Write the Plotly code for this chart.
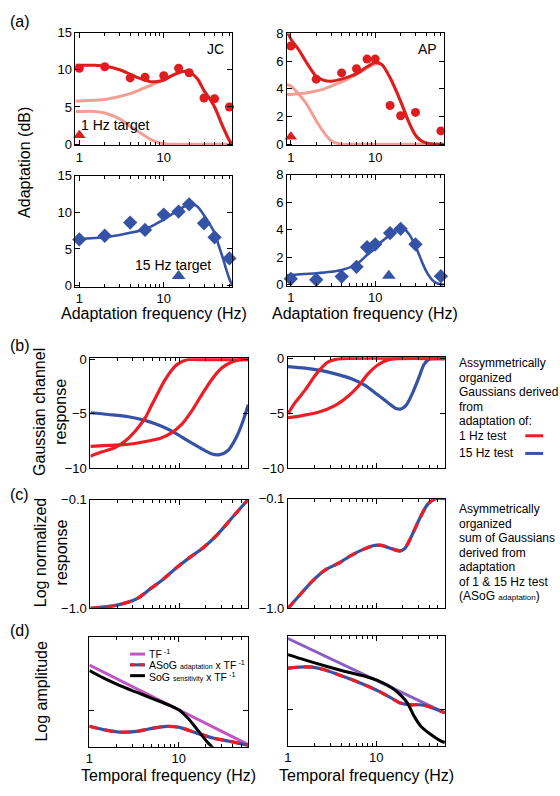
import math
import plotly.graph_objects as go

W, H = 560, 796
FONT = "Liberation Sans, Arial, sans-serif"

RED = "rgb(222,30,30)"
RED_B = "rgb(238,28,36)"
PINK = "rgb(242,158,148)"
BLUE = "rgb(52,82,166)"
MAG = "rgb(196,84,196)"
PURP = "rgb(140,92,196)"

# ---------------- data ----------------
# (a) JC, 1 Hz target
jc_top_pts_f = [1, 2, 4, 6, 10, 15, 20, 30, 40, 60]
jc_top_pts_v = [10.2, 10.4, 8.9, 9.0, 9.2, 10.2, 9.6, 6.2, 6.1, 5.0]
jc_top_fit_f = [0.9, 1, 1.5, 2, 3, 4, 5, 6, 7, 8, 10, 12, 15, 18, 20, 25, 30, 35, 40, 50, 60, 65]
jc_top_fit_v = [10.6, 10.6, 10.6, 10.5, 10.0, 9.4, 8.9, 8.6, 8.4, 8.4, 8.6, 9.1, 9.6, 9.8, 9.7, 8.8, 7.2, 6.1, 5.0, 2.4, 0.5, 0.05]
jc_top_slow_v = [5.8, 5.8, 5.9, 6.0, 6.4, 6.8, 7.2, 7.6, 7.9, 8.2, 8.6, 9.1, 9.6, 9.8, 9.7, 8.8, 7.2, 6.1, 5.0, 2.4, 0.5, 0.05]
jc_top_fast_v = [4.4, 4.4, 4.4, 4.2, 3.4, 2.4, 1.7, 1.1, 0.65, 0.35, 0.05, 0, 0, 0, 0, 0, 0, 0, 0, 0, 0, 0]
jc_top_target = ([1], [1.2])

# (a) AP, 1 Hz target
ap_top_pts_f = [1, 2, 4, 6, 8, 10, 15, 20, 30, 60]
ap_top_pts_v = [7.1, 4.7, 5.15, 5.45, 6.15, 6.15, 2.8, 2.06, 2.3, 0.96]
ap_top_fit_f = [0.9, 1, 1.25, 1.5, 2, 2.5, 3, 4, 5, 6, 8, 10, 12, 15, 20, 25, 30, 35, 40, 50, 65]
ap_top_fit_v = [8.2, 7.6, 6.8, 6.0, 4.9, 4.6, 4.55, 4.7, 4.9, 5.1, 5.6, 5.9, 5.75, 4.8, 3.1, 1.6, 0.65, 0.25, 0.1, 0, 0]
ap_top_slow_v = [3.6, 3.6, 3.65, 3.7, 3.85, 4.0, 4.2, 4.5, 4.8, 5.05, 5.5, 5.8, 5.75, 4.8, 3.1, 1.6, 0.65, 0.25, 0.1, 0, 0]
ap_top_fast_v = [4.3, 4.2, 3.6, 3.0, 1.7, 0.8, 0.25, 0, 0, 0, 0, 0, 0, 0, 0, 0, 0, 0, 0, 0, 0]
ap_top_target = ([1], [0.54])

# (a) JC, 15 Hz target
jc_bot_pts_f = [1, 2, 4, 6, 10, 15, 20, 30, 40, 60]
jc_bot_pts_v = [6.3, 6.8, 8.6, 7.6, 9.7, 10.1, 11.1, 8.5, 6.6, 3.7]
jc_bot_fit_f = [0.9, 1, 1.5, 2, 3, 4, 6, 8, 10, 12, 15, 18, 20, 22, 25, 30, 35, 40, 45, 50, 55, 60, 65]
jc_bot_fit_v = [6.3, 6.35, 6.5, 6.6, 6.9, 7.2, 7.7, 8.4, 9.0, 9.6, 10.3, 10.9, 11.1, 11.1, 10.8, 9.6, 8.4, 7.2, 5.4, 3.8, 2.2, 0.9, 0.0]
jc_bot_target = ([15], [1.3])

# (a) AP, 15 Hz target
ap_bot_pts_f = [1, 2, 4, 6, 8, 10, 15, 20, 30, 60]
ap_bot_pts_v = [0.42, 0.35, 0.58, 1.29, 2.72, 2.93, 3.75, 4.06, 2.93, 0.61]
ap_bot_fit_f = [0.9, 1, 2, 3, 4, 6, 8, 10, 12, 15, 18, 20, 22, 25, 30, 35, 40, 45, 50, 55, 60, 65]
ap_bot_fit_v = [0.68, 0.7, 0.82, 0.93, 1.06, 1.48, 2.15, 2.65, 3.15, 3.63, 4.0, 4.1, 4.05, 3.7, 2.8, 1.8, 1.0, 0.5, 0.2, 0.08, 0.02, 0]
ap_bot_target = ([14.5], [0.65])

# (b) Gaussian channel responses
b1_red1_f = [1, 1.35, 1.9, 2.47, 3.19, 4.13, 4.9, 5.83, 6.9, 8.2, 9.7, 12.6, 16.3, 60]
b1_red1_v = [-8.9, -8.5, -8.1, -7.5, -6.6, -5.4, -4.2, -3.0, -1.9, -1.0, -0.4, 0, 0, 0]
b1_red2_f = [1, 1.6, 2.69, 4.5, 6.35, 8.2, 10.6, 13.7, 17.8, 23, 29.7, 38.5, 49.9, 60]
b1_red2_v = [-8.0, -7.9, -7.8, -7.5, -7.2, -6.75, -6.0, -4.8, -3.3, -1.9, -0.83, -0.24, 0, 0]
b1_blue_f = [1, 1.6, 2.69, 4.13, 6.35, 8.95, 12.6, 17.8, 23, 28.5, 35.5, 43.8, 52.2, 60]
b1_blue_v = [-4.9, -5.06, -5.27, -5.6, -6.15, -6.75, -7.5, -8.2, -8.67, -8.76, -8.37, -7.2, -5.7, -4.17]

b2_red1_f = [1, 1.21, 1.57, 2.03, 2.41, 2.86, 3.4, 4.04, 60]
b2_red1_v = [-5.04, -4.0, -2.86, -1.55, -0.82, -0.3, -0.09, 0, 0]
b2_red2_f = [1, 1.44, 2.21, 3.4, 4.8, 6.2, 8.07, 10.4, 13.5, 17.5, 60]
b2_red2_v = [-5.4, -5.2, -4.9, -4.3, -3.44, -2.57, -1.4, -0.58, -0.12, 0, 0]
b2_blue_f = [1, 1.57, 2.41, 3.71, 5.24, 7.4, 10.4, 13.5, 16.8, 19.1, 21.7, 25.8, 30.6, 34.9, 39.8, 45.2, 60]
b2_blue_v = [-0.73, -0.87, -1.1, -1.46, -1.84, -2.42, -3.3, -4.0, -4.55, -4.6, -4.3, -3.15, -1.7, -0.52, -0.06, 0, 0]

# (c) log normalized response (ASoG adaptation)
c1_f = [1, 1.99, 3.33, 4.69, 6.62, 9.33, 13.1, 18.5, 26.1, 36.9, 47.8, 60]
c1_v = [-1.0, -0.973, -0.92, -0.84, -0.758, -0.664, -0.58, -0.50, -0.40, -0.275, -0.18, -0.1]
c2_f = [1, 1.33, 1.88, 2.65, 3.74, 5.28, 7.47, 9.66, 11.5, 14.9, 18.5, 21.0, 24.9, 30.9, 38.3, 47.6, 60]
c2_v = [-1.0, -0.898, -0.778, -0.684, -0.63, -0.563, -0.51, -0.483, -0.483, -0.51, -0.529, -0.51, -0.415, -0.268, -0.148, -0.1, -0.1]

# (d) log amplitude (arbitrary log units)
d1_tf_f = [1, 60]
d1_tf_v = [2.23, 0.06]
d1_sog_f = [1, 1.43, 2.2, 3.37, 5.17, 7.93, 10.2, 12.7, 15.1, 17.9, 21.2, 24.2, 27]
d1_sog_v = [2.08, 1.88, 1.67, 1.49, 1.31, 1.13, 1.0, 0.78, 0.56, 0.33, 0.11, -0.03, -0.25]
d1_asog_f = [1, 1.43, 2.2, 3.37, 5.17, 7.28, 10.2, 15.7, 24.2, 37, 60]
d1_asog_v = [0.56, 0.47, 0.40, 0.42, 0.51, 0.56, 0.53, 0.38, 0.24, 0.15, 0.04]

d2_tf_f = [1, 60]
d2_tf_v = [2.93, 0.9]
d2_sog_f = [1, 1.58, 2.65, 4.45, 7.47, 10.5, 14.9, 19.2, 22.8, 27.2, 32.3, 41.7, 54.4, 60]
d2_sog_v = [2.49, 2.34, 2.18, 2.03, 1.90, 1.78, 1.59, 1.37, 1.15, 0.79, 0.53, 0.31, 0.13, 0.09]
d2_asog_f = [1, 1.33, 1.88, 2.65, 3.74, 5.28, 7.47, 10.5, 14.9, 19.2, 24.9, 30.9, 38.3, 60]
d2_asog_v = [2.12, 2.15, 2.15, 2.07, 1.94, 1.81, 1.66, 1.5, 1.30, 1.16, 1.12, 1.12, 1.08, 0.9]

MINOR_TICKS = [2, 3, 4, 5, 6, 7, 8, 9, 20, 30, 40, 50, 60]

# ---------------- figure ----------------
fig = go.Figure()


def ax_names(i):
    return ("x" if i == 1 else f"x{i}", "y" if i == 1 else f"y{i}")


def set_axes(i, xpx, ypx, xr, yr, yticks, ytext, xlabels=True, ylabels=True):
    xa, ya = ax_names(i)
    common = dict(showline=True, linecolor="black", linewidth=1, mirror="allticks",
                  ticks="inside", ticklen=5, tickcolor="black", showgrid=False,
                  zeroline=False, tickfont=dict(size=13, color="black", family=FONT))
    fig.update_layout(**{
        ("xaxis" if i == 1 else f"xaxis{i}"): dict(
            domain=[xpx[0] / W, xpx[1] / W], anchor=ya, type="log",
            range=[math.log10(xr[0]), math.log10(xr[1])],
            tickmode="array", tickvals=[1, 10], ticktext=["1", "10"],
            showticklabels=xlabels,
            minor=dict(tickmode="array", tickvals=MINOR_TICKS, ticks="inside",
                       ticklen=3, tickcolor="black", showgrid=False),
            **common),
        ("yaxis" if i == 1 else f"yaxis{i}"): dict(
            domain=[1 - ypx[1] / H, 1 - ypx[0] / H], anchor=xa, range=yr,
            tickmode="array", tickvals=yticks, ticktext=ytext,
            showticklabels=ylabels, **common),
    })


def line(i, f, v, color, width=3.0, dash=None):
    xa, ya = ax_names(i)
    fig.add_trace(go.Scatter(x=f, y=v, mode="lines", xaxis=xa, yaxis=ya,
                             line=dict(color=color, width=width, shape="spline",
                                       smoothing=0.8, dash=dash),
                             hoverinfo="skip"))


def dashed(i, f, v):
    line(i, f, v, BLUE, 3.2)
    line(i, f, v, RED_B, 3.2, "9px,7px")


def pts(i, f, v, color, symbol, size):
    xa, ya = ax_names(i)
    fig.add_trace(go.Scatter(x=f, y=v, mode="markers", xaxis=xa, yaxis=ya, cliponaxis=False,
                             marker=dict(color=color, symbol=symbol, size=size, line=dict(width=0)),
                             hoverinfo="skip"))


AX_A = (0.9, 65)
AX_B = (1, 60)
set_axes(1, (72, 230), (26, 141), AX_A, [-0.15, 15], [0, 5, 10, 15], ["0", "5", "10", "15"])
set_axes(2, (285, 443), (27, 141), AX_A, [-0.08, 8], [0, 2, 4, 6, 8], ["0", "2", "4", "6", "8"])
set_axes(3, (72, 230), (172, 285), AX_A, [-0.15, 15], [0, 5, 10, 15], ["0", "5", "10", "15"])
set_axes(4, (285, 443), (171, 284), AX_A, [-0.08, 8], [0, 2, 4, 6, 8], ["0", "2", "4", "6", "8"])
set_axes(5, (87, 246), (358, 470), AX_B, [-10, 0.12], [-10, -5, 0], ["\u221210", "\u22125", "0"], False)
set_axes(6, (286, 444), (357, 470), AX_B, [-10, 0.12], [-10, -5, 0], ["\u221210", "\u22125", "0"], False)
set_axes(7, (87, 246), (502, 613), AX_B, [-1.0, -0.1], [-1.0, -0.1], ["\u22121.0", "\u22120.1"], False)
set_axes(8, (286, 444), (501, 613), AX_B, [-1.0, -0.1], [-1.0, -0.1], ["\u22121.0", "\u22120.1"], False)
set_axes(9, (86, 246), (642, 754), AX_B, [0, 3], [1], ["1"], True, False)
set_axes(10, (286, 444), (641, 753), AX_B, [0, 3], [1], ["1"], True, False)

# (a)
line(1, jc_top_fit_f, jc_top_slow_v, PINK, 3)
line(1, jc_top_fit_f, jc_top_fast_v, PINK, 3)
line(1, jc_top_fit_f, jc_top_fit_v, RED, 3)
pts(1, jc_top_pts_f, jc_top_pts_v, RED, "circle", 9)
pts(1, *jc_top_target, RED, "triangle-up", 11)

line(2, ap_top_fit_f, ap_top_slow_v, PINK, 3)
line(2, ap_top_fit_f, ap_top_fast_v, PINK, 3)
line(2, ap_top_fit_f, ap_top_fit_v, RED, 3)
pts(2, ap_top_pts_f, ap_top_pts_v, RED, "circle", 9)
pts(2, *ap_top_target, RED, "triangle-up", 11)

line(3, jc_bot_fit_f, jc_bot_fit_v, BLUE, 2.6)
pts(3, jc_bot_pts_f, jc_bot_pts_v, BLUE, "diamond", 11)
pts(3, *jc_bot_target, BLUE, "triangle-up", 12)

line(4, ap_bot_fit_f, ap_bot_fit_v, BLUE, 2.6)
pts(4, ap_bot_pts_f, ap_bot_pts_v, BLUE, "diamond", 11)
pts(4, *ap_bot_target, BLUE, "triangle-up", 12)

# (b)
line(5, b1_blue_f, b1_blue_v, BLUE, 3.2)
line(5, b1_red1_f, b1_red1_v, RED_B, 3.2)
line(5, b1_red2_f, b1_red2_v, RED_B, 3.2)
line(6, b2_blue_f, b2_blue_v, BLUE, 3.2)
line(6, b2_red1_f, b2_red1_v, RED_B, 3.2)
line(6, b2_red2_f, b2_red2_v, RED_B, 3.2)

# (c)
dashed(7, c1_f, c1_v)
dashed(8, c2_f, c2_v)

# (d)
line(9, d1_tf_f, d1_tf_v, MAG, 3)
dashed(9, d1_asog_f, d1_asog_v)
line(9, d1_sog_f, d1_sog_v, "black", 3)
line(10, d2_tf_f, d2_tf_v, PURP, 3)
dashed(10, d2_asog_f, d2_asog_v)
line(10, d2_sog_f, d2_sog_v, "black", 3)


# ---------------- text ----------------
def text(x, y, s, size=13, xanchor="center", yanchor="middle", angle=0):
    fig.add_annotation(x=x / W, y=1 - y / H, xref="paper", yref="paper", text=s,
                       showarrow=False, textangle=angle, xanchor=xanchor, yanchor=yanchor,
                       borderpad=0, font=dict(size=size, family=FONT, color="black"))


def seg(x0, x1, y, color, width=3.0, dash=None):
    fig.add_shape(type="line", xref="paper", yref="paper", x0=x0 / W, x1=x1 / W,
                  y0=1 - y / H, y1=1 - y / H, line=dict(color=color, width=width, dash=dash))


text(16, 15, "(a)", 16)
text(16, 345, "(b)", 16)
text(16, 497, "(c)", 16)
text(16, 635, "(d)", 16)

text(213, 43, "JC", 14)
text(427, 43, "AP", 14)
text(77, 120, "1 Hz target", 14, xanchor="left")
text(170, 263, "15 Hz target", 14)

text(20, 158, "Adaptation (dB)", 16, angle=-90)
text(151, 312, "Adaptation frequency (Hz)", 16)
text(364, 312, "Adaptation frequency (Hz)", 16)
text(47, 413, "Gaussian channel<br>response", 16, angle=-90)
text(47, 556, "Log normalized<br>response", 16, angle=-90)
text(38, 697, "Log amplitude", 16, angle=-90)
text(166, 783, "Temporal frequency (Hz)", 16)
text(365, 783, "Temporal frequency (Hz)", 16)

b_lines = ["Assymmetrically", "organized", "Gaussians derived", "from", "adaptation of:"]
for k, s in enumerate(b_lines):
    text(457, 363 + 14.8 * k, s, 12, xanchor="left")
text(457, 437, "1 Hz test", 12, xanchor="left")
text(457, 455, "15 Hz test", 12, xanchor="left")
seg(525, 543, 437, RED_B, 3)
seg(525, 543, 455, BLUE, 3)

c_lines = ["Asymmetrically", "organized", "sum of Gaussians", "derived from", "adaptation",
           "of 1 &amp; 15 Hz test", "(ASoG <span style='font-size:8px'>adaptation</span>)"]
for k, s in enumerate(c_lines):
    text(457, 512 + 14.8 * k, s, 12, xanchor="left")

# (d) legend
seg(127, 142, 659.5, MAG, 3)
seg(127, 142, 670.5, BLUE, 3)
seg(127, 142, 670.5, RED_B, 3, "5px,4px")
seg(127, 142, 681.5, "black", 3)
text(145, 659, "TF<sup> -1</sup>", 10.5, xanchor="left")
text(145, 670.5, "ASoG <span style='font-size:7px'>adaptation</span> x TF<sup> -1</sup>", 10.5, xanchor="left")
text(145, 682, "SoG <span style='font-size:7px'>sensitivity</span> x TF<sup> -1</sup>", 10.5, xanchor="left")

fig.update_layout(width=W, height=H, margin=dict(l=0, r=0, t=0, b=0),
                  paper_bgcolor="white", plot_bgcolor="white", showlegend=False,
                  font=dict(family=FONT, color="black"))

fig.write_html("out.html", config={"displayModeBar": False},
               post_script="document.body.style.margin='0';document.body.style.overflow='hidden';")
